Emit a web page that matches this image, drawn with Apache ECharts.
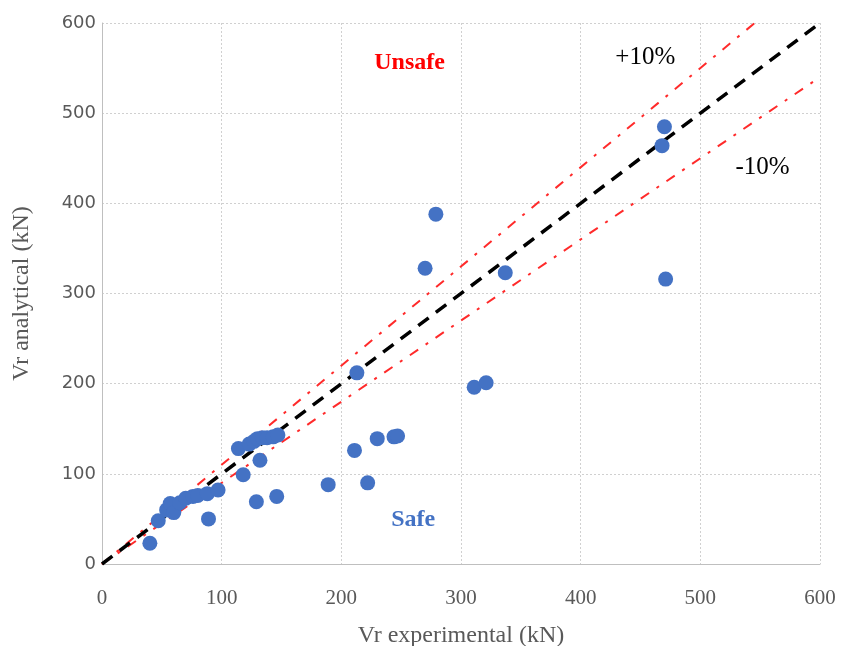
<!DOCTYPE html>
<html>
<head>
<meta charset="utf-8">
<script src="https://cdn.jsdelivr.net/npm/echarts@6/dist/echarts.min.js"></script>
<style>html,body{margin:0;padding:0;background:#fff}#c{width:842px;height:646px}</style>
</head>
<body>
<div id="c"></div>
<script>
const vrExperimental = [40,47,54,57,60,65,70,76,80,88,97,89,114,123,127,130,134,138,143,147,132,118,129,146,189,211,213,222,230,244,247,270,279,311,321,337,468,470,471];
const vrAnalytical   = [23,48,60,67,57,68,73,75,76,78,82,50,128,133,136,139,140,140,141,143,115,99,69,75,88,126,212,90,139,141,142,328,388,196,201,323,464,485,316];
const axisTicks = [0,100,200,300,400,500,600];
const equalityLine = [[0,0],[600,600]];
const plusTenLine = [[0,0],[600/1.1,600]];
const minusTenLine = [[0,0],[600,540]];
const annotations = [
  {text:'Unsafe', x:257, y:556},
  {text:'Safe', x:260, y:49},
  {text:'+10%', x:454, y:562},
  {text:'-10%', x:552, y:440}
];

const chart = echarts.init(document.getElementById('c'), null, {renderer:'canvas'});
const pts = vrExperimental.map((v,i)=>[v, vrAnalytical[i]]);
const serif = '"Liberation Serif","Times New Roman",serif';
chart.setOption({
  animation:false,
  backgroundColor:'#fff',
  grid:{left:102,right:22,top:23,bottom:82,containLabel:false,outerBoundsMode:'none'},
  xAxis:{
    type:'value',min:axisTicks[0],max:axisTicks[axisTicks.length-1],interval:100,
    name:'Vr experimental (kN)',nameLocation:'middle',nameGap:60,
    nameTextStyle:{fontFamily:serif,fontSize:24,color:'#595959'},
    axisLine:{show:true,lineStyle:{color:'#bfbfbf',width:1}},
    axisTick:{show:false},
    axisLabel:{fontFamily:serif,fontSize:21,color:'#595959',margin:24},
    splitLine:{show:true,lineStyle:{color:'#d0d0d0',type:[2,2],width:1}}
  },
  yAxis:{
    type:'value',min:axisTicks[0],max:axisTicks[axisTicks.length-1],interval:100,
    name:'Vr analytical (kN)',nameLocation:'middle',nameGap:68,
    nameTextStyle:{fontFamily:serif,fontSize:24,color:'#595959'},
    axisLine:{show:true,lineStyle:{color:'#bfbfbf',width:1}},
    axisTick:{show:false},
    axisLabel:{fontFamily:'"DejaVu Sans",sans-serif',fontSize:18,color:'#595959',margin:6},
    splitLine:{show:true,lineStyle:{color:'#d0d0d0',type:[2,2],width:1}}
  },
  series:[
    {type:'line',data:plusTenLine,symbol:'none',silent:true,z:1,
     lineStyle:{color:'#ff2a2a',width:2,type:[10,9,3,9]}},
    {type:'line',data:minusTenLine,symbol:'none',silent:true,z:1,
     lineStyle:{color:'#ff2a2a',width:2,type:[10,9,3,9]}},
    {type:'line',data:equalityLine,symbol:'none',silent:true,z:2,
     lineStyle:{color:'#000',width:3.5,type:[13,9]}},
    {type:'scatter',data:pts,symbol:'circle',symbolSize:15,z:5,
     itemStyle:{color:'#4472C4',opacity:1}}
  ]
});

const styles = {
  'Unsafe':{fill:'#ff0000',font:'bold 24px '+serif},
  'Safe':{fill:'#4472C4',font:'bold 24px '+serif},
  '+10%':{fill:'#000',font:'25px '+serif},
  '-10%':{fill:'#000',font:'25px '+serif}
};
const g = annotations.map(a=>{
  const p = chart.convertToPixel({gridIndex:0},[a.x,a.y]);
  return {type:'text',x:p[0],y:p[1],z:10,
    style:{text:a.text,fill:styles[a.text].fill,font:styles[a.text].font,align:'center',verticalAlign:'middle'}};
});
chart.setOption({graphic:g});
</script>
</body>
</html>
